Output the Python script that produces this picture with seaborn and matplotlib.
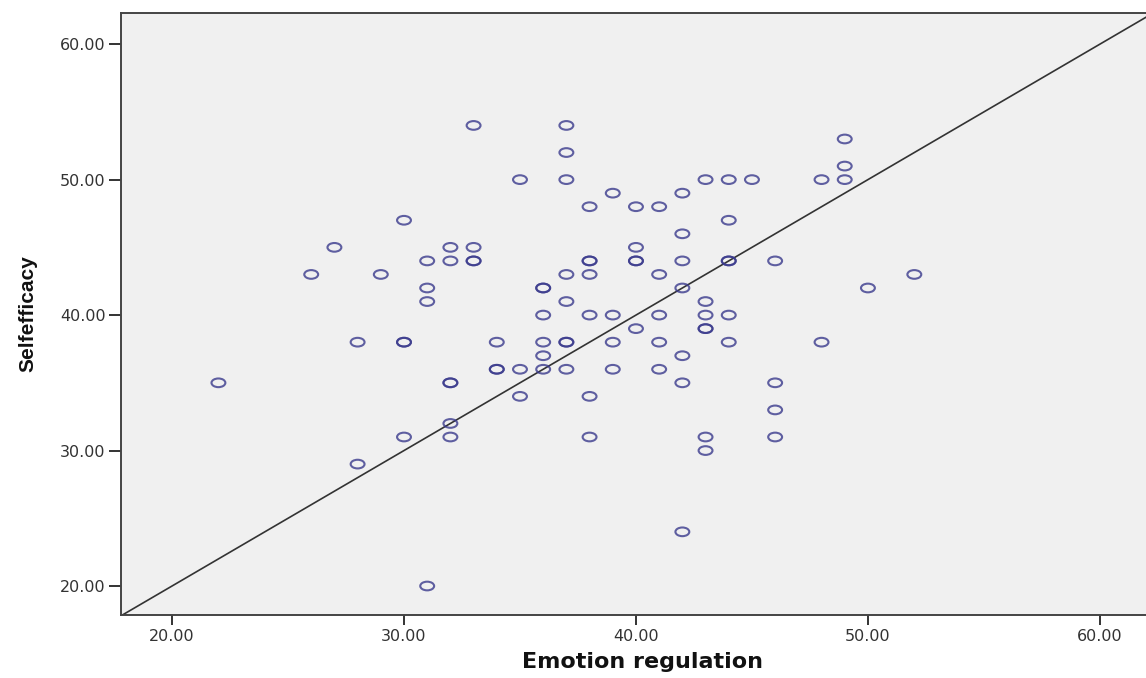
import matplotlib
matplotlib.use("Agg")
import matplotlib.pyplot as plt
from matplotlib import font_manager
import seaborn as sns
import pandas as pd
from matplotlib.path import Path
from matplotlib.transforms import Affine2D

# Data (duplicates repeated where circles look darker)
emotion_regulation = [
    33, 37, 37, 49, 49,
    35, 37, 43, 44, 45, 48, 49,
    39, 42, 38, 40, 41, 30, 44, 42,
    27, 32, 33, 40,
    31, 32, 33, 33, 38, 38, 40, 40, 42, 44, 44, 46,
    26, 29, 37, 38, 41, 52,
    31, 36, 36, 42, 50,
    31, 37, 43,
    36, 38, 39, 41, 43, 44,
    40, 43, 43,
    28, 30, 30, 34, 36, 37, 37, 39, 41, 44, 48,
    36, 42,
    34, 34, 35, 36, 37, 39, 41,
    22, 32, 32, 42, 46,
    35, 38,
    46,
    32,
    30, 32, 38, 43, 46,
    43,
    28,
    42,
    31,
]
self_efficacy = [
    54, 54, 52, 53, 51,
    50, 50, 50, 50, 50, 50, 50,
    49, 49, 48, 48, 48, 47, 47, 46,
    45, 45, 45, 45,
    44, 44, 44, 44, 44, 44, 44, 44, 44, 44, 44, 44,
    43, 43, 43, 43, 43, 43,
    42, 42, 42, 42, 42,
    41, 41, 41,
    40, 40, 40, 40, 40, 40,
    39, 39, 39,
    38, 38, 38, 38, 38, 38, 38, 38, 38, 38, 38,
    37, 37,
    36, 36, 36, 36, 36, 36, 36,
    35, 35, 35, 35, 35,
    34, 34,
    33,
    32,
    31, 31, 31, 31, 31,
    30,
    29,
    24,
    20,
]
ref_slope = 1.0
ref_intercept = 0.0
x_ticks = [20, 30, 40, 50, 60]
y_ticks = [20, 30, 40, 50, 60]
x_label = "Emotion regulation"
y_label = "Selfefficacy"

df = pd.DataFrame({x_label: emotion_regulation, y_label: self_efficacy})

sns.set_theme(style="white")
plt.rcParams["font.family"] = ["DejaVu Sans"]

available = {f.name for f in font_manager.fontManager.ttflist}
if "Liberation Sans Narrow" in available:
    ylab_family, ylab_size = ["Liberation Sans Narrow", "Liberation Sans"], 17
else:
    ylab_family, ylab_size = ["Liberation Sans", "DejaVu Sans"], 15

W, H = 1146, 678
fig = plt.figure(figsize=(W / 100, H / 100), dpi=100)
fig.patch.set_facecolor("white")
left, right, top, bottom = 121, 1150, 13, 615
ax = fig.add_axes([left / W, 1 - bottom / H, (right - left) / W, (bottom - top) / H])
ax.set_facecolor("#f0f0f0")

# elliptical hollow marker (wider than tall, as in the reference)
ell = Affine2D().scale(1.6, 1.0).transform_path(Path.unit_circle())

sns.scatterplot(data=df, x=x_label, y=y_label, ax=ax, marker=ell, s=100,
                facecolor="none", edgecolor="#3a3a8c", linewidth=1.5, alpha=0.8,
                zorder=3)

ax.axline((0, ref_intercept), slope=ref_slope, color="#333333", linewidth=1.2, zorder=2)

ax.set_xlim(17.8, 62.16)
ax.set_ylim(17.86, 62.3)
ax.set_xticks(x_ticks)
ax.set_yticks(y_ticks)
ax.set_xticklabels([f"{v:.2f}" for v in x_ticks])
ax.set_yticklabels([f"{v:.2f}" for v in y_ticks])
ax.tick_params(axis="y", direction="out", length=9, width=1.4, color="#333333",
               labelsize=11.5, labelcolor="#333333", pad=2, left=True)
ax.tick_params(axis="x", direction="out", length=7, width=1.4, color="#333333",
               labelsize=11.5, labelcolor="#333333", pad=3, bottom=True)

for side in ["left", "bottom", "top", "right"]:
    ax.spines[side].set_color("#444444")
    ax.spines[side].set_linewidth(1.4)

ax.set_xlabel(x_label, fontsize=16, fontweight="bold",
              family=["DejaVu Sans"], color="#111111")
ax.set_ylabel(y_label, fontsize=ylab_size, fontweight="bold",
              family=ylab_family, color="#111111")
ax.xaxis.set_label_coords((642 - left) / (right - left), -(652 - bottom) / (bottom - top))
ax.yaxis.set_label_coords(-(121 - 37) / (right - left), 0.5)

fig.savefig("out.png", dpi=100, facecolor="white")
